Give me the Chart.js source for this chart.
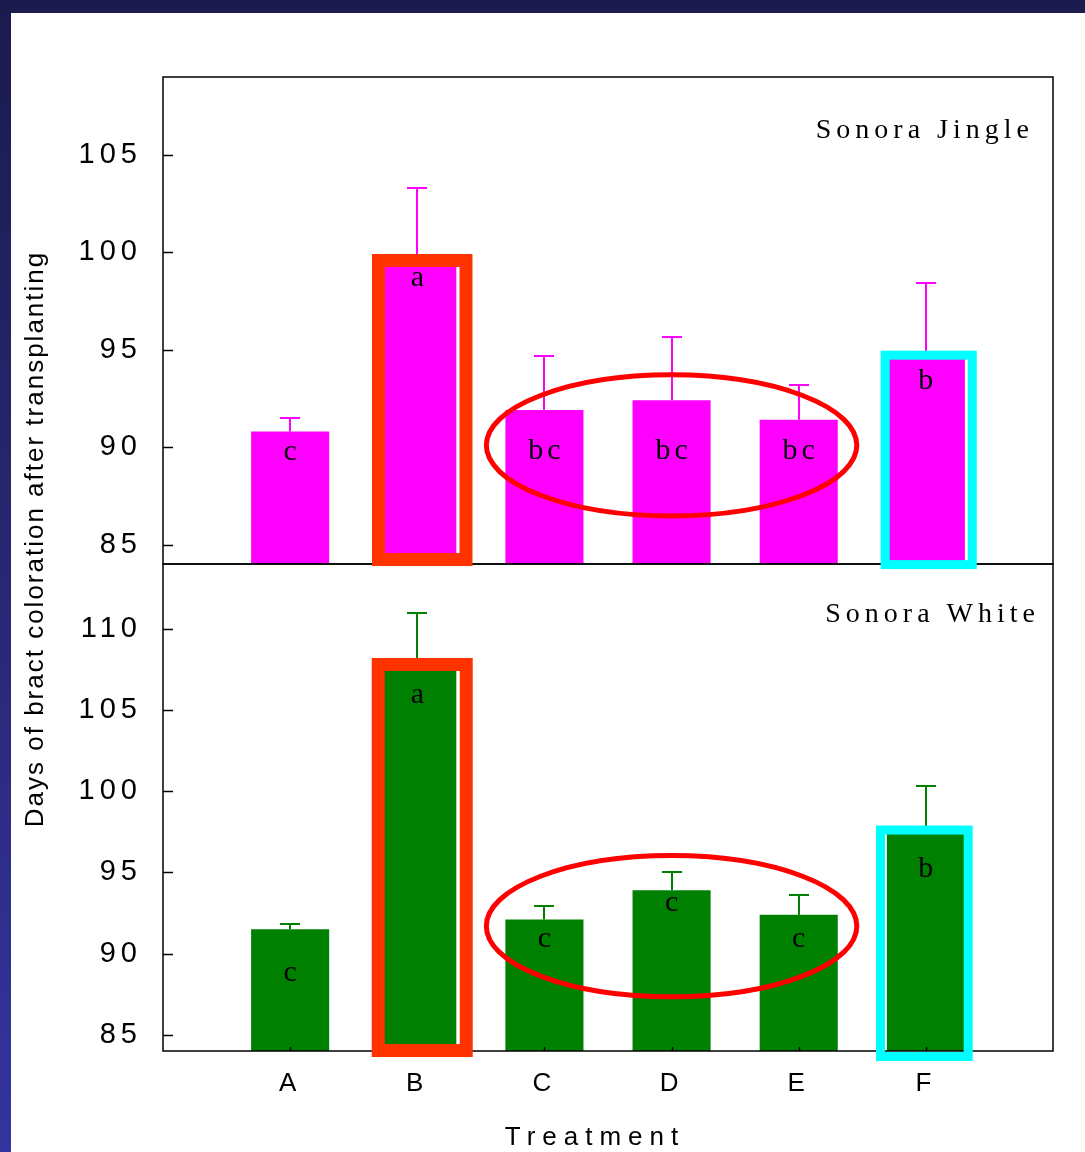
<!DOCTYPE html>
<html>
<head>
<meta charset="utf-8">
<title>Days of bract coloration after transplanting</title>
<script src="https://cdn.jsdelivr.net/npm/chart.js@4.4.1/dist/chart.umd.min.js"></script>
<style>
  html, body { margin: 0; padding: 0; width: 1085px; height: 1152px; overflow: hidden; }
  body { position: relative; background: linear-gradient(to bottom, #1b1b4e 0%, #262670 45%, #3434a0 100%); }
  #sheet { position: absolute; left: 11px; top: 13px; right: 0; bottom: 0; background: #fff; }
  #chart { position: absolute; left: 0; top: 0; }
</style>
</head>
<body>
<div id="sheet"></div>
<canvas id="chart" width="1085" height="1152"></canvas>
<script>
const treatments = ['A', 'B', 'C', 'D', 'E', 'F'];

// Sonora Jingle (top panel)
const jingleMeans = [90.8, 99.6, 91.9, 92.4, 91.4, 94.6];
const jingleSE = [0.7, 3.7, 2.8, 3.25, 1.8, 3.8];
const jingleLetters = ['c', 'a', 'bc', 'bc', 'bc', 'b'];
const jingleLetterY = [89.35, 98.25, 89.37, 89.37, 89.37, 92.97];
const jingleTicks = [85, 90, 95, 100, 105];

// Sonora White (bottom panel)
const whiteMeans = [91.5, 107.5, 92.1, 93.9, 92.4, 97.5];
const whiteSE = [0.35, 3.5, 0.85, 1.1, 1.2, 2.8];
const whiteLetters = ['c', 'a', 'c', 'c', 'c', 'b'];
const whiteLetterY = [88.3, 105.45, 90.4, 92.65, 90.4, 94.7];
const whiteTicks = [85, 90, 95, 100, 105, 110];

const yTitle = 'Days of bract coloration after transplanting';
const xTitle = 'Treatment';

// highlight boxes and ellipses, in axis units (x = category index)
const boxes = [
    { axis: 'yTop', x0: 1.695, x1: 2.383, y0: 84.23, y1: 99.58, color: '#ff3300', width: 13 },
    { axis: 'yTop', x0: 5.68, x1: 6.365, y0: 83.97, y1: 94.72, color: '#00ffff', width: 9 },
    { axis: 'yBot', x0: 1.693, x1: 2.385, y0: 84.03, y1: 107.81, color: '#ff3300', width: 13 },
    { axis: 'yBot', x0: 5.643, x1: 6.333, y0: 83.66, y1: 97.61, color: '#00ffff', width: 9 }
];
const ellipses = [
    { axis: 'yTop', cx: 4, cy: 90.09, rx: 1.457, ry: 3.62 },
    { axis: 'yBot', cx: 4, cy: 91.69, rx: 1.457, ry: 4.35 }
];

const SANS = '"Liberation Sans", Arial, sans-serif';
const SERIF = '"Liberation Serif", "Times New Roman", serif';
Chart.defaults.font.family = SANS;
Chart.defaults.color = '#000';

const panels = [
    { axis: 'yTop', ticks: jingleTicks, means: jingleMeans, se: jingleSE, letters: jingleLetters, letterY: jingleLetterY, color: '#ff00ff', name: 'Sonora Jingle', nameDx: -19, nameDy: 61 },
    { axis: 'yBot', ticks: whiteTicks, means: whiteMeans, se: whiteSE, letters: whiteLetters, letterY: whiteLetterY, color: '#008000', name: 'Sonora White', nameDx: -13, nameDy: 58 }
];

const panelPlugin = {
    id: 'panels',
    beforeDraw(chart) {
        chart.ctx.letterSpacing = '5px';
    },
    afterDatasetsDraw(chart) {
        const { ctx, chartArea: area } = chart;
        const x = chart.scales.x;
        ctx.save();

        // frames and inward ticks
        ctx.strokeStyle = '#000';
        ctx.lineWidth = 1.5;
        panels.forEach(p => {
            const s = chart.scales[p.axis];
            ctx.strokeRect(area.left, s.top, area.right - area.left, s.bottom - s.top);
            ctx.beginPath();
            p.ticks.forEach(v => {
                const py = Math.round(s.getPixelForValue(v)) + 0.5;
                ctx.moveTo(area.left, py);
                ctx.lineTo(area.left + 10, py);
            });
            ctx.stroke();
        });
        ctx.beginPath();
        treatments.forEach(t => {
            const px = Math.round(x.getPixelForValue(t)) + 0.5;
            ctx.moveTo(px, area.bottom);
            ctx.lineTo(px, area.bottom - 4);
        });
        ctx.stroke();

        // error bars
        panels.forEach(p => {
            const s = chart.scales[p.axis];
            ctx.strokeStyle = p.color;
            ctx.lineWidth = 2;
            ctx.beginPath();
            p.means.forEach((m, i) => {
                const px = Math.round(x.getPixelForValue(treatments[i]));
                const y0 = s.getPixelForValue(m);
                const y1 = Math.round(s.getPixelForValue(m + p.se[i]));
                ctx.moveTo(px, y0);
                ctx.lineTo(px, y1);
                ctx.moveTo(px - 10, y1);
                ctx.lineTo(px + 10, y1);
            });
            ctx.stroke();
        });

        // significance letters and panel names
        ctx.fillStyle = '#000';
        ctx.textBaseline = 'alphabetic';
        panels.forEach(p => {
            const s = chart.scales[p.axis];
            ctx.font = '30px ' + SERIF;
            ctx.letterSpacing = '4px';
            ctx.textAlign = 'center';
            p.letters.forEach((l, i) => {
                ctx.fillText(l, x.getPixelForValue(treatments[i]) + 2, s.getPixelForValue(p.letterY[i]));
            });
            ctx.font = '28px ' + SERIF;
            ctx.letterSpacing = '5px';
            ctx.textAlign = 'right';
            ctx.fillText(p.name, area.right + p.nameDx, s.top + p.nameDy);
        });

        // axis titles
        ctx.font = '26px ' + SANS;
        ctx.letterSpacing = '2px';
        ctx.textAlign = 'center';
        ctx.save();
        ctx.translate(43, (area.top + area.bottom) / 2 - 24);
        ctx.rotate(-Math.PI / 2);
        ctx.fillText(yTitle, 1, 0);
        ctx.restore();
        ctx.letterSpacing = '7px';
        ctx.fillText(xTitle, (area.left + area.right) / 2 - 13, 1145);

        // highlight boxes and ellipses
        ctx.lineJoin = 'miter';
        boxes.forEach(b => {
            const s = chart.scales[b.axis];
            const l = x.getPixelForValue(b.x0), r = x.getPixelForValue(b.x1);
            const t = s.getPixelForValue(b.y1), btm = s.getPixelForValue(b.y0);
            ctx.strokeStyle = b.color;
            ctx.lineWidth = b.width;
            ctx.strokeRect(l, t, r - l, btm - t);
        });
        ellipses.forEach(e => {
            const s = chart.scales[e.axis];
            const cx = x.getPixelForValue(e.cx), cy = s.getPixelForValue(e.cy);
            const rx = x.getPixelForValue(e.cx + e.rx) - cx;
            const ry = s.getPixelForValue(e.cy - e.ry) - cy;
            ctx.strokeStyle = '#ff0000';
            ctx.lineWidth = 5;
            ctx.beginPath();
            ctx.ellipse(cx, cy, rx, ry, 0, 0, Math.PI * 2);
            ctx.stroke();
        });

        ctx.restore();
    }
};

function yScale(ticks, max) {
    return {
        type: 'linear',
        position: 'left',
        stack: 'panels',
        stackWeight: 1,
        min: 84,
        max: max,
        afterBuildTicks: s => { s.ticks = ticks.map(v => ({ value: v })); },
        afterFit: s => { s.width = 163; },
        grid: { display: false, drawTicks: false },
        border: { display: false },
        ticks: { font: { size: 29 }, color: '#000', padding: 21 }
    };
}

new Chart(document.getElementById('chart'), {
    type: 'bar',
    data: {
        datasets: [
            {
                label: 'Sonora Jingle',
                data: treatments.map((t, i) => ({ x: t, y: jingleMeans[i] })),
                yAxisID: 'yTop',
                backgroundColor: '#ff00ff',
                base: 84,
                grouped: false,
                categoryPercentage: 0.614,
                barPercentage: 1
            },
            {
                label: 'Sonora White',
                data: treatments.map((t, i) => ({ x: t, y: whiteMeans[i] })),
                yAxisID: 'yBot',
                backgroundColor: '#008000',
                base: 84,
                grouped: false,
                categoryPercentage: 0.614,
                barPercentage: 1
            }
        ]
    },
    options: {
        responsive: false,
        animation: false,
        layout: { padding: { top: 77, right: 32, left: 0, bottom: 0 } },
        plugins: {
            legend: { display: false },
            tooltip: { enabled: false }
        },
        scales: {
            x: {
                type: 'category',
                labels: ['', ...treatments, ''],
                offset: false,
                grid: { display: false, drawTicks: false },
                border: { display: false },
                ticks: { font: { size: 26 }, color: '#000', padding: 17, maxRotation: 0, autoSkip: false },
                afterFit: s => { s.height = 101; }
            },
            yBot: yScale(whiteTicks, 114),
            yTop: yScale(jingleTicks, 109)
        }
    },
    plugins: [panelPlugin]
});
</script>
</body>
</html>
